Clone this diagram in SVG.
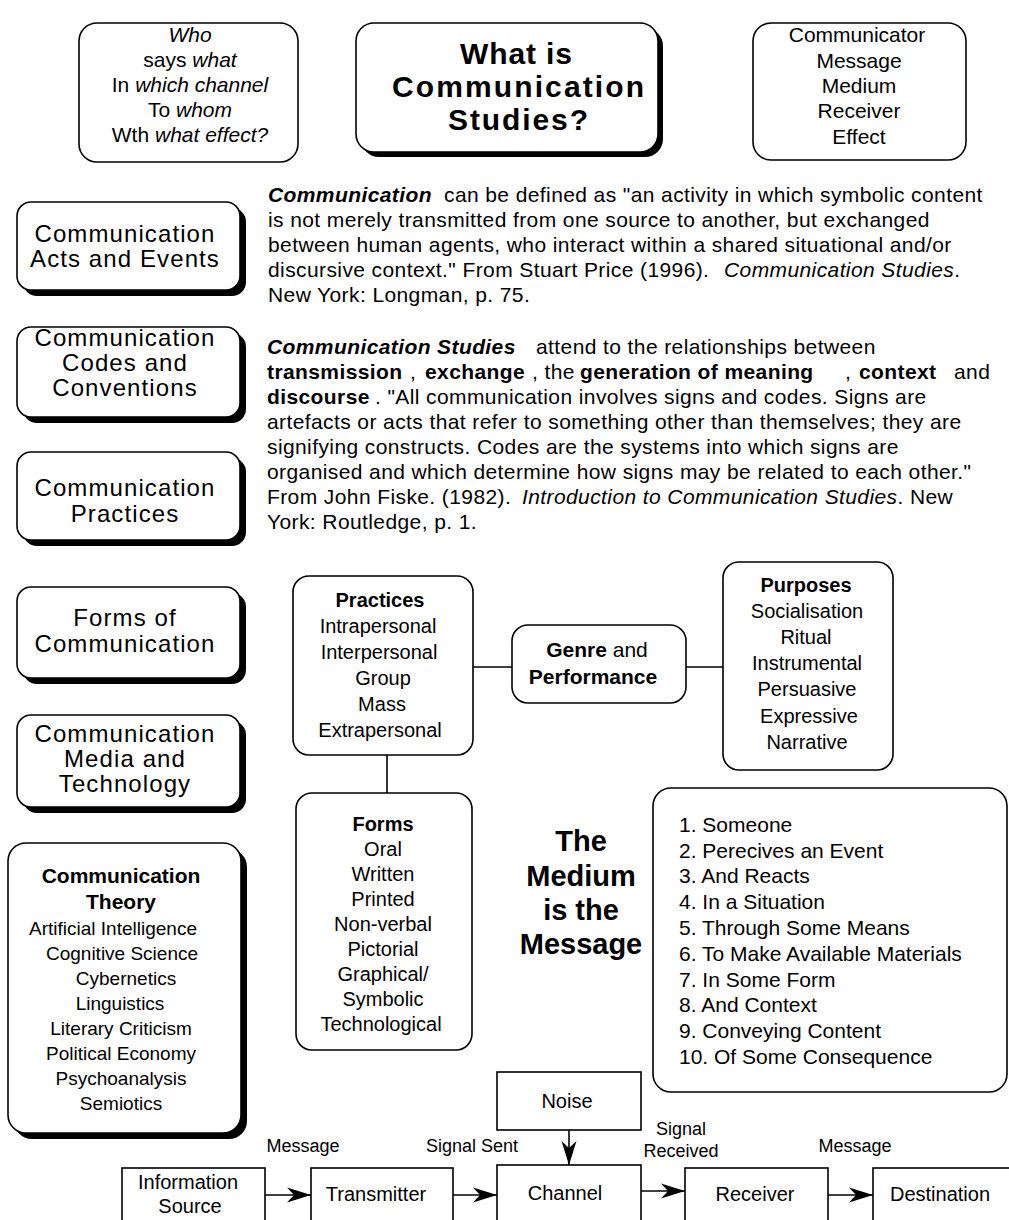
<svg xmlns="http://www.w3.org/2000/svg" width="1009" height="1220" viewBox="0 0 1009 1220">
<style>
text { font-family: "Liberation Sans", Arial, Helvetica, sans-serif; fill: #000; }
.m { text-anchor: middle; }
.b { font-weight: bold; }
.i { font-style: italic; }
.box { fill: #fff; stroke: #000; stroke-width: 1.6; }
.sh { fill: #000; }
.ln { fill: none; stroke: #000; stroke-width: 1.6; }
.s26 { font-size: 24px; letter-spacing: 1.1px; }
.s21 { font-size: 21px; }
.s20 { font-size: 20px; }
.s19 { font-size: 19px; }
.s18 { font-size: 18px; }
.para { font-size: 21px; letter-spacing: 0.4px; }
</style>
<defs>
<marker id="arr" markerUnits="userSpaceOnUse" viewBox="0 0 24 16" markerWidth="24" markerHeight="16" refX="24" refY="8" orient="auto">
<path d="M0,0.5 L24,8 L0,15.5 L7,8 Z" fill="#000"/>
</marker>
</defs>

<!-- top row -->
<g id="who-box">
<rect class="box" x="79" y="23" width="219" height="139" rx="18"/>
<text class="s21 m i" x="190" y="42">Who</text>
<text class="s21 m" x="190" y="67">says <tspan class="i">what</tspan></text>
<text class="s21 m" x="190" y="92">In <tspan class="i">which channel</tspan></text>
<text class="s21 m" x="190" y="117">To <tspan class="i">whom</tspan></text>
<text class="s21 m" x="190" y="142">Wth <tspan class="i">what effect?</tspan></text>
</g>
<g id="title-box">
<rect class="sh" x="361" y="28" width="302" height="129" rx="18"/>
<rect class="box" x="356" y="23" width="302" height="129" rx="18"/>
<text class="b m" font-size="30" x="516" y="64" textLength="112" lengthAdjust="spacing">What is</text>
<text class="b m" font-size="30" x="518" y="97" textLength="252" lengthAdjust="spacing">Communication</text>
<text class="b m" font-size="30" x="518" y="130" textLength="140" lengthAdjust="spacing">Studies?</text>
</g>
<g id="smcre-box">
<rect class="box" x="753" y="23" width="213" height="137" rx="18"/>
<text class="s21 m" x="857" y="42">Communicator</text>
<text class="s21 m" x="859" y="68">Message</text>
<text class="s21 m" x="859" y="93">Medium</text>
<text class="s21 m" x="859" y="118">Receiver</text>
<text class="s21 m" x="859" y="144">Effect</text>
</g>

<!-- left column -->
<g id="acts-events">
<rect class="sh" x="23" y="208" width="223" height="88" rx="14"/>
<rect class="box" x="17" y="202" width="223" height="88" rx="14"/>
<text class="s26 m" x="125" y="242">Communication</text>
<text class="s26 m" x="125" y="267">Acts and Events</text>
</g>
<g id="codes-conventions">
<rect class="sh" x="23" y="333" width="223" height="90" rx="14"/>
<rect class="box" x="17" y="327" width="223" height="90" rx="14"/>
<text class="s26 m" x="125" y="346">Communication</text>
<text class="s26 m" x="125" y="371">Codes and</text>
<text class="s26 m" x="125" y="396">Conventions</text>
</g>
<g id="practices-left">
<rect class="sh" x="23" y="458" width="223" height="88" rx="14"/>
<rect class="box" x="17" y="452" width="223" height="88" rx="14"/>
<text class="s26 m" x="125" y="496">Communication</text>
<text class="s26 m" x="125" y="522">Practices</text>
</g>
<g id="forms-left">
<rect class="sh" x="23" y="593" width="223" height="91" rx="14"/>
<rect class="box" x="17" y="587" width="223" height="91" rx="14"/>
<text class="s26 m" x="125" y="626">Forms of</text>
<text class="s26 m" x="125" y="652">Communication</text>
</g>
<g id="media-technology">
<rect class="sh" x="23" y="721" width="223" height="92" rx="14"/>
<rect class="box" x="17" y="715" width="223" height="92" rx="14"/>
<text class="s26 m" x="125" y="742">Communication</text>
<text class="s26 m" x="125" y="767">Media and</text>
<text class="s26 m" x="125" y="792">Technology</text>
</g>
<g id="theory">
<rect class="sh" x="14" y="849" width="233" height="290" rx="18"/>
<rect class="box" x="8" y="843" width="233" height="290" rx="18"/>
<text class="b m" font-size="21" x="121" y="883">Communication</text>
<text class="b m" font-size="21" x="121" y="909">Theory</text>
<text class="s19 m" x="113" y="935">Artificial Intelligence</text>
<text class="s19 m" x="122" y="960">Cognitive Science</text>
<text class="s19 m" x="126" y="985">Cybernetics</text>
<text class="s19 m" x="120" y="1010">Linguistics</text>
<text class="s19 m" x="121" y="1035">Literary Criticism</text>
<text class="s19 m" x="121" y="1060">Political Economy</text>
<text class="s19 m" x="121" y="1085">Psychoanalysis</text>
<text class="s19 m" x="121" y="1110">Semiotics</text>
</g>

<!-- paragraphs -->
<g id="definition-1">
<text class="para" y="202"><tspan class="b i" x="268">Communication</tspan><tspan x="444">can be defined as "an activity in which symbolic content</tspan></text>
<text class="para" x="268" y="227">is not merely transmitted from one source to another, but exchanged</text>
<text class="para" x="268" y="252">between human agents, who interact within  a shared situational and/or</text>
<text class="para" y="277"><tspan x="268">discursive context." From Stuart Price (1996).</tspan><tspan class="i" x="724">Communication Studies</tspan>.</text>
<text class="para" x="268" y="302">New York: Longman, p. 75.</text>
</g>
<g id="definition-2">
<text class="para" y="354"><tspan class="b i" x="267">Communication Studies</tspan><tspan x="536">attend to the relationships between</tspan></text>
<text class="para" y="379"><tspan class="b" x="267">transmission</tspan><tspan x="410">,</tspan><tspan class="b" x="425">exchange</tspan><tspan x="532">, the</tspan><tspan class="b" x="580">generation of meaning</tspan><tspan x="845">,</tspan><tspan class="b" x="859">context</tspan><tspan x="954">and</tspan></text>
<text class="para" y="404"><tspan class="b" x="267">discourse</tspan><tspan x="375">.  "All communication involves signs and codes.  Signs are</tspan></text>
<text class="para" x="267" y="429">artefacts or acts that refer to something other than themselves; they are</text>
<text class="para" x="267" y="454">signifying constructs.  Codes are the systems into which signs are</text>
<text class="para" x="267" y="479">organised and which determine how signs may be related to each other."</text>
<text class="para" y="504"><tspan x="267">From John Fiske. (1982).</tspan><tspan class="i" x="522">Introduction to Communication Studies</tspan>. New</text>
<text class="para" x="267" y="529">York: Routledge, p. 1.</text>
</g>

<!-- connectors -->
<g id="connectors">
<line class="ln" x1="473" y1="667" x2="512" y2="667"/>
<line class="ln" x1="686" y1="667" x2="723" y2="667"/>
<line class="ln" x1="387" y1="755" x2="387" y2="793"/>
<line class="ln" x1="265" y1="1195" x2="311" y2="1195" marker-end="url(#arr)"/>
<line class="ln" x1="453" y1="1195" x2="497" y2="1195" marker-end="url(#arr)"/>
<line class="ln" x1="641" y1="1191" x2="685" y2="1191" marker-end="url(#arr)"/>
<line class="ln" x1="828" y1="1195" x2="873" y2="1195" marker-end="url(#arr)"/>
<line class="ln" x1="569" y1="1130" x2="569" y2="1165" marker-end="url(#arr)"/>
</g>

<!-- middle diagram -->
<g id="practices">
<rect class="box" x="293" y="576" width="180" height="179" rx="16"/>
<text class="b m" font-size="20" x="380" y="607">Practices</text>
<text class="s20 m" x="378" y="633">Intrapersonal</text>
<text class="s20 m" x="379" y="659">Interpersonal</text>
<text class="s20 m" x="383" y="685">Group</text>
<text class="s20 m" x="382" y="711">Mass</text>
<text class="s20 m" x="380" y="737">Extrapersonal</text>
</g>
<g id="genre">
<rect class="box" x="512" y="625" width="174" height="78" rx="16"/>
<text class="s21 m" x="597" y="657"><tspan class="b">Genre</tspan> and</text>
<text class="b m" font-size="21" x="593" y="684">Performance</text>
</g>
<g id="purposes">
<rect class="box" x="723" y="562" width="170" height="208" rx="16"/>
<text class="b m" font-size="20" x="806" y="592">Purposes</text>
<text class="s20 m" x="807" y="618">Socialisation</text>
<text class="s20 m" x="806" y="644">Ritual</text>
<text class="s20 m" x="807" y="670">Instrumental</text>
<text class="s20 m" x="807" y="696">Persuasive</text>
<text class="s20 m" x="809" y="723">Expressive</text>
<text class="s20 m" x="807" y="749">Narrative</text>
</g>
<g id="forms">
<rect class="box" x="296" y="793" width="176" height="257" rx="16"/>
<text class="b m" font-size="20" x="383" y="831">Forms</text>
<text class="s20 m" x="383" y="856">Oral</text>
<text class="s20 m" x="383" y="881">Written</text>
<text class="s20 m" x="383" y="906">Printed</text>
<text class="s20 m" x="383" y="931">Non-verbal</text>
<text class="s20 m" x="383" y="956">Pictorial</text>
<text class="s20 m" x="383" y="981">Graphical/</text>
<text class="s20 m" x="383" y="1006">Symbolic</text>
<text class="s20 m" x="381" y="1031">Technological</text>
</g>
<g id="medium-message">
<text class="b m" font-size="29" x="581" y="851">The</text>
<text class="b m" font-size="29" x="581" y="886">Medium</text>
<text class="b m" font-size="29" x="581" y="920">is the</text>
<text class="b m" font-size="29" x="581" y="954">Message</text>
</g>
<g id="steps">
<rect class="box" x="653" y="788" width="354" height="304" rx="18"/>
<text class="s21" x="679" y="832">1. Someone</text>
<text class="s21" x="679" y="858">2. Perecives an Event</text>
<text class="s21" x="679" y="883">3. And Reacts</text>
<text class="s21" x="679" y="909">4. In a Situation</text>
<text class="s21" x="679" y="935">5. Through Some Means</text>
<text class="s21" x="679" y="961">6. To Make Available Materials</text>
<text class="s21" x="679" y="987">7. In Some Form</text>
<text class="s21" x="679" y="1012">8. And Context</text>
<text class="s21" x="679" y="1038">9. Conveying Content</text>
<text class="s21" x="679" y="1064">10. Of Some Consequence</text>
</g>

<!-- bottom flow -->
<g id="noise">
<rect class="box" x="497" y="1072" width="144" height="58"/>
<text class="s20 m" x="567" y="1108">Noise</text>
</g>
<g id="info-source">
<rect class="box" x="122" y="1168" width="143" height="62"/>
<text class="s20 m" x="188" y="1189">Information</text>
<text class="s20 m" x="190" y="1213">Source</text>
</g>
<g id="transmitter">
<rect class="box" x="311" y="1168" width="142" height="62"/>
<text class="s20 m" x="376" y="1201">Transmitter</text>
</g>
<g id="channel">
<rect class="box" x="497" y="1165" width="144" height="70"/>
<text class="s20 m" x="565" y="1200">Channel</text>
</g>
<g id="receiver">
<rect class="box" x="685" y="1168" width="143" height="62"/>
<text class="s20 m" x="755" y="1201">Receiver</text>
</g>
<g id="destination">
<rect class="box" x="873" y="1168" width="150" height="62"/>
<text class="s20 m" x="940" y="1201">Destination</text>
</g>
<g id="flow-labels">
<text class="s18 m" x="303" y="1152">Message</text>
<text class="s18 m" x="472" y="1152">Signal Sent</text>
<text class="s18 m" x="681" y="1135">Signal</text>
<text class="s18 m" x="681" y="1157">Received</text>
<text class="s18 m" x="855" y="1152">Message</text>
</g>
</svg>
